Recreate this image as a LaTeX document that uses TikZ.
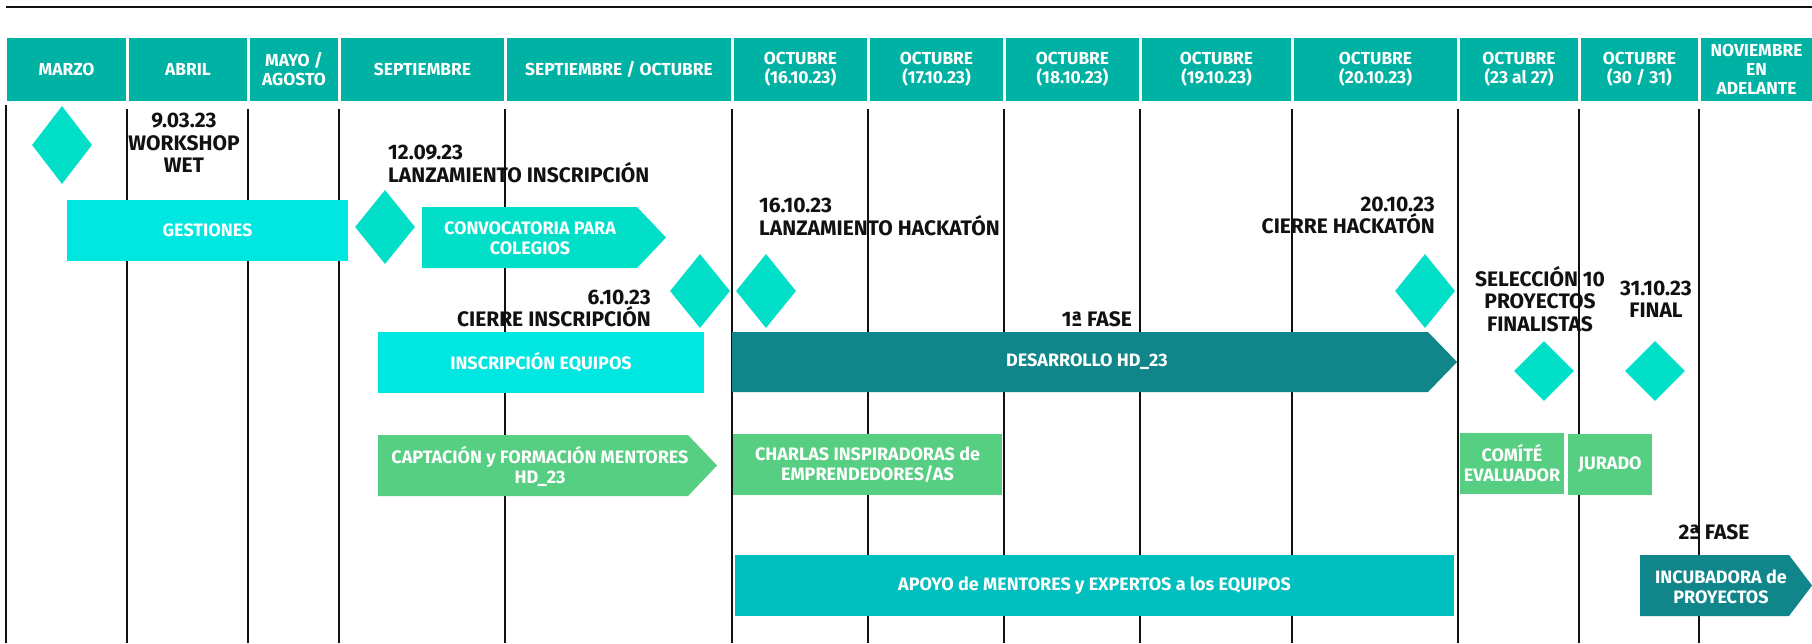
\documentclass[tikz,border=0pt]{standalone}
\usepackage{fontspec}
\setmainfont{Fira Sans}
\usetikzlibrary{shapes.geometric}
\definecolor{hdr}{HTML}{00B2A4}
\definecolor{cyanbox}{HTML}{00E6E1}
\definecolor{mint}{HTML}{02DFC9}
\definecolor{darkteal}{HTML}{11868A}
\definecolor{greenbox}{HTML}{57CF82}
\definecolor{apoyo}{HTML}{00BFBF}
\definecolor{ink}{HTML}{111111}
\tikzset{
  hcell/.style={fill=hdr},
  htext/.style={text=white, font=\fontsize{17.4}{19}\selectfont\bfseries, align=center, inner sep=0pt},
  lbl/.style={text=ink, font=\fontsize{21}{22.5}\selectfont\bfseries, inner sep=0pt},
  bartext/.style={text=white, font=\fontsize{18}{20}\selectfont\bfseries, align=center, inner sep=0pt},
  bar/.style={rectangle, inner sep=0pt, minimum height=61pt, text=white, font=\fontsize{18}{20}\selectfont\bfseries, align=center},
  gridline/.style={line width=2pt, draw=ink},
  milestone/.style={diamond, fill=mint, inner sep=0pt, minimum width=60pt, minimum height=#1},
  milestone/.default=74pt
}
\begin{document}
\begin{tikzpicture}[x=1pt,y=-1pt]
\useasboundingbox[fill=white] (0,0) rectangle (1812,643);
% top rule
\coordinate (ruleL) at (6,7);
\coordinate (ruleR) at (1812,7);
\draw[line width=2.5pt, draw=ink] (ruleL) -- (ruleR);
% header cells
\fill[hcell] (7,38) rectangle (126,101);
\fill[hcell] (129,38) rectangle (247,101);
\fill[hcell] (250,38) rectangle (338,101);
\fill[hcell] (341,38) rectangle (504,101);
\fill[hcell] (507,38) rectangle (731,101);
\fill[hcell] (734,38) rectangle (867,101);
\fill[hcell] (870,38) rectangle (1003,101);
\fill[hcell] (1006,38) rectangle (1139,101);
\fill[hcell] (1142,38) rectangle (1291,101);
\fill[hcell] (1294,38) rectangle (1457,101);
\fill[hcell] (1460,38) rectangle (1578,101);
\fill[hcell] (1581,38) rectangle (1698,101);
\fill[hcell] (1701,38) rectangle (1812,101);
\node[htext] (h1) at (66.5,69.5) {MARZO};
\node[htext] (h2) at (188,69.5) {ABRIL};
\node[htext] (h3) at (294,69.5) {MAYO /\\AGOSTO};
\node[htext] (h4) at (422.5,69.5) {SEPTIEMBRE};
\node[htext] (h5) at (619,69.5) {SEPTIEMBRE / OCTUBRE};
\node[htext] (h6) at (800.5,69.5) {OCTUBRE\\(16.10.23)};
\node[htext] (h7) at (936.5,69.5) {OCTUBRE\\(17.10.23)};
\node[htext] (h8) at (1072.5,69.5) {OCTUBRE\\(18.10.23)};
\node[htext] (h9) at (1216.5,69.5) {OCTUBRE\\(19.10.23)};
\node[htext] (h10) at (1375.5,69.5) {OCTUBRE\\(20.10.23)};
\node[htext] (h11) at (1519,69.5) {OCTUBRE\\(23 al 27)};
\node[htext] (h12) at (1639.5,69.5) {OCTUBRE\\(30 / 31)};
\node[htext] (h13) at (1756.5,69.5) {NOVIEMBRE\\EN\\ADELANTE};
% black labels
\node[lbl, align=center] (wet) at (184,143) {9.03.23\\WORKSHOP\\WET};
\node[lbl, align=left, anchor=west] (lanzins) at (388,164) {12.09.23\\LANZAMIENTO INSCRIPCIÓN};
\node[lbl, align=right, anchor=east] (cierreins) at (651,308.5) {6.10.23\\CIERRE INSCRIPCIÓN};
\node[lbl, align=left, anchor=west] (lanzhack) at (759,217) {16.10.23\\LANZAMIENTO HACKATÓN};
\node[lbl, align=right, anchor=east] (cierrehack) at (1435,215.5) {20.10.23\\CIERRE HACKATÓN};
\node[lbl, anchor=east] (fase1) at (1132,319) {1ª FASE};
\node[lbl, align=center] (selec) at (1540,299) {SELECCIÓN 10\\PROYECTOS\\FINALISTAS};
\node[lbl, align=center] (final) at (1656,299) {31.10.23\\FINAL};
\node[lbl] (fase2) at (1714,532) {2ª FASE};
% grid lines
\draw[gridline] (6,105) -- (6,643);
\foreach \gx in {127,248,339,505,732,868,1004,1140,1292,1458,1579,1699}{
  \draw[gridline] (\gx,109) -- (\gx,643);
}
% milestones
\node[milestone=78pt] (m1) at (62,145) {};
\node[milestone] (m2) at (385,227) {};
\node[milestone] (m3) at (700,291) {};
\node[milestone] (m4) at (766,291) {};
\node[milestone] (m5) at (1425,291) {};
\node[milestone=60pt] (m6) at (1544,371) {};
\node[milestone=60pt] (m7) at (1655,371) {};
% rectangular bars
\node[bar, fill=cyanbox, minimum width=281pt] (gest) at (207.5,230.5) {GESTIONES};
\node[bar, fill=cyanbox, minimum width=326pt] (inscr) at (541,362.5) {INSCRIPCIÓN EQUIPOS};
\node[bar, fill=greenbox, minimum width=269pt] (charlas) at (867.5,464.5) {CHARLAS INSPIRADORAS de\\EMPRENDEDORES/AS};
\node[bar, fill=apoyo, minimum width=719pt] (apoyo) at (1094.5,585.5) {APOYO de MENTORES y EXPERTOS a los EQUIPOS};
\node[bar, fill=greenbox, minimum width=104pt] (comite) at (1512,463.5) {COMÍTÉ\\EVALUADOR};
\node[bar, fill=greenbox, minimum width=84pt] (jurado) at (1610,464.5) {JURADO};
% arrow bars
\fill[mint] (422,207) -- (637,207) -- (666,237.5) -- (637,268) -- (422,268) -- cycle;
\node[bartext] (convoc) at (530,238) {CONVOCATORIA PARA\\COLEGIOS};
\fill[greenbox] (378,435) -- (688,435) -- (717,465.5) -- (688,496) -- (378,496) -- cycle;
\node[bartext] (capta) at (540,466) {CAPTACIÓN y FORMACIÓN MENTORES\\HD\_23};
\fill[darkteal] (732,332) -- (1428,332) -- (1457,362) -- (1428,392) -- (732,392) -- cycle;
\node[bartext] (desa) at (1087,362) {DESARROLLO HD\_23};
\fill[darkteal] (1640,555) -- (1789,555) -- (1812,585.5) -- (1789,616) -- (1640,616) -- cycle;
\node[bartext] (incub) at (1721,587) {INCUBADORA de\\PROYECTOS};
\end{tikzpicture}
\end{document}
